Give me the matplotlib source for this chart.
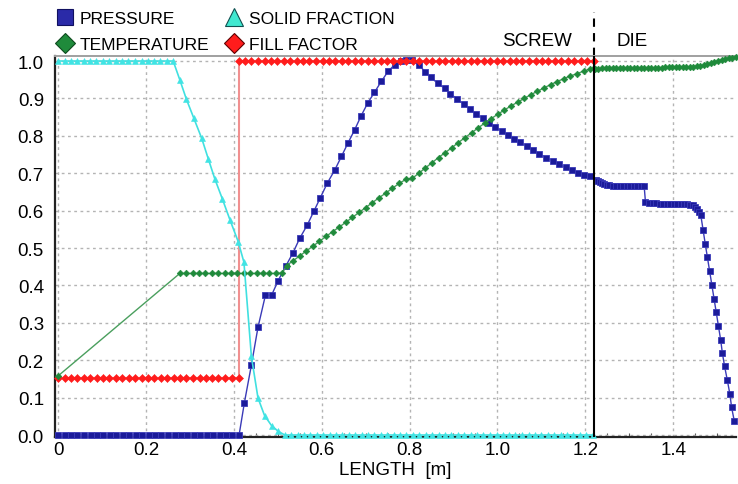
import matplotlib
matplotlib.use('Agg')
import matplotlib.pyplot as plt
from matplotlib.lines import Line2D
import matplotlib.transforms as mtransforms

plt.rcParams['font.family'] = ['Liberation Sans', 'DejaVu Sans']
narrow = ['Liberation Sans Narrow', 'Liberation Sans', 'DejaVu Sans']

# ---- data ----
# pressure (screw + die)
p_x = [0.000, 0.015, 0.029, 0.044, 0.059, 0.074, 0.088, 0.103, 0.118, 0.132,
       0.147, 0.162, 0.177, 0.191, 0.206, 0.221, 0.235, 0.250, 0.265, 0.280,
       0.294, 0.309, 0.324, 0.338, 0.353, 0.368, 0.383, 0.397, 0.412,
       0.424, 0.440, 0.455, 0.472, 0.486, 0.501, 0.518, 0.535, 0.550, 0.567,
       0.582, 0.597, 0.613, 0.630, 0.645, 0.660, 0.675, 0.690, 0.705, 0.720,
       0.736, 0.751, 0.766, 0.781, 0.792, 0.805, 0.821, 0.836, 0.849, 0.864,
       0.880, 0.893, 0.908, 0.923, 0.937, 0.951, 0.967, 0.980, 0.995, 1.010,
       1.023, 1.037, 1.052, 1.067, 1.082, 1.095, 1.111, 1.126, 1.139, 1.155,
       1.170, 1.183, 1.198, 1.211, 1.224,
       1.228, 1.233, 1.238, 1.243, 1.249, 1.255, 1.262, 1.270, 1.278, 1.286,
       1.294, 1.302, 1.310, 1.318, 1.326, 1.334,
       1.337, 1.345, 1.353, 1.361, 1.369, 1.377, 1.385, 1.393, 1.401, 1.409,
       1.417, 1.425, 1.432, 1.438, 1.444, 1.450, 1.455, 1.459, 1.463,
       1.468, 1.473, 1.478, 1.483, 1.488, 1.493, 1.498, 1.503, 1.508, 1.512,
       1.517, 1.523, 1.529, 1.533, 1.539]
p_y = [0.0, 0.0, 0.0, 0.0, 0.0, 0.0, 0.0, 0.0, 0.0, 0.0,
       0.0, 0.0, 0.0, 0.0, 0.0, 0.0, 0.0, 0.0, 0.0, 0.0,
       0.0, 0.0, 0.0, 0.0, 0.0, 0.0, 0.0, 0.0, 0.0,
       0.086, 0.187, 0.288, 0.374, 0.374, 0.413, 0.451, 0.488, 0.526, 0.561,
       0.598, 0.635, 0.674, 0.709, 0.745, 0.781, 0.816, 0.854, 0.888, 0.916,
       0.946, 0.972, 0.990, 1.000, 1.003, 1.003, 0.989, 0.971, 0.956, 0.940,
       0.927, 0.913, 0.898, 0.885, 0.872, 0.858, 0.847, 0.834, 0.823, 0.813,
       0.802, 0.791, 0.783, 0.772, 0.762, 0.751, 0.742, 0.733, 0.725, 0.716,
       0.709, 0.700, 0.695, 0.692, 0.683,
       0.680, 0.676, 0.673, 0.671, 0.669, 0.668, 0.667, 0.667, 0.666, 0.666,
       0.666, 0.665, 0.665, 0.665, 0.665, 0.665,
       0.622, 0.620, 0.620, 0.620, 0.619, 0.619, 0.619, 0.619, 0.619, 0.619,
       0.618, 0.618, 0.617, 0.616, 0.614, 0.610, 0.604, 0.597, 0.587,
       0.549, 0.511, 0.475, 0.438, 0.401, 0.364, 0.328, 0.292, 0.255, 0.219,
       0.184, 0.148, 0.110, 0.074, 0.038]

# temperature
t_x = [0.000, 0.277, 0.291, 0.306, 0.321, 0.335, 0.350, 0.364, 0.379, 0.394,
       0.408, 0.423, 0.437, 0.452, 0.467, 0.481, 0.496, 0.510,
       0.520, 0.535, 0.550, 0.565, 0.580, 0.595, 0.610, 0.625, 0.640, 0.655,
       0.670, 0.685, 0.700, 0.715, 0.730, 0.746, 0.761, 0.777, 0.792, 0.806,
       0.821, 0.836, 0.851, 0.866, 0.881, 0.896, 0.911, 0.926, 0.941, 0.956,
       0.971, 0.986, 1.001, 1.016, 1.031, 1.046, 1.061, 1.076, 1.091, 1.106,
       1.121, 1.136, 1.151, 1.166, 1.181, 1.196, 1.210, 1.219,
       1.222, 1.230, 1.238, 1.246, 1.254, 1.262, 1.270, 1.278, 1.286, 1.294,
       1.302, 1.310, 1.318, 1.326, 1.334, 1.342, 1.350, 1.358, 1.366, 1.374,
       1.382, 1.390, 1.398, 1.406, 1.414, 1.422, 1.430, 1.438, 1.446, 1.454,
       1.462, 1.470, 1.478, 1.486, 1.494, 1.502, 1.510, 1.518, 1.526, 1.534,
       1.542]
t_y = [0.158, 0.432, 0.432, 0.432, 0.432, 0.432, 0.432, 0.432, 0.432, 0.432,
       0.432, 0.432, 0.432, 0.432, 0.432, 0.432, 0.432, 0.433,
       0.453, 0.466, 0.479, 0.492, 0.505, 0.518, 0.531, 0.544, 0.556, 0.569,
       0.582, 0.595, 0.608, 0.621, 0.634, 0.647, 0.660, 0.673, 0.684, 0.686,
       0.700, 0.714, 0.728, 0.742, 0.755, 0.768, 0.782, 0.795, 0.808, 0.821,
       0.834, 0.846, 0.858, 0.869, 0.880, 0.890, 0.900, 0.910, 0.919, 0.928,
       0.937, 0.945, 0.953, 0.960, 0.966, 0.973, 0.978, 0.980,
       0.978, 0.979, 0.980, 0.980, 0.980, 0.981, 0.981, 0.981, 0.981, 0.981,
       0.981, 0.981, 0.981, 0.981, 0.982, 0.982, 0.982, 0.982, 0.982, 0.982,
       0.983, 0.983, 0.983, 0.983, 0.983, 0.984, 0.984, 0.985, 0.985, 0.986,
       0.987, 0.988, 0.991, 0.994, 0.997, 1.000, 1.003, 1.005, 1.007, 1.009,
       1.011]

# solid fraction
s_x = [0.000, 0.015, 0.029, 0.044, 0.058, 0.073, 0.087, 0.102, 0.117, 0.131,
       0.146, 0.160, 0.175, 0.190, 0.204, 0.219, 0.233, 0.248, 0.262,
       0.277, 0.292, 0.309, 0.327, 0.342, 0.357, 0.374, 0.391, 0.410, 0.423,
       0.440, 0.455, 0.470, 0.486, 0.501,
       0.516, 0.530, 0.545, 0.560, 0.574, 0.589, 0.603, 0.618, 0.633, 0.647,
       0.662, 0.676, 0.691, 0.706, 0.720, 0.735, 0.749, 0.764, 0.779, 0.793,
       0.808, 0.822, 0.837, 0.852, 0.866, 0.881, 0.895, 0.910, 0.925, 0.939,
       0.954, 0.968, 0.983, 0.998, 1.012, 1.027, 1.041, 1.056, 1.071, 1.085,
       1.100, 1.114, 1.129, 1.144, 1.158, 1.173, 1.187, 1.202, 1.217]
s_y = [1.0, 1.0, 1.0, 1.0, 1.0, 1.0, 1.0, 1.0, 1.0, 1.0,
       1.0, 1.0, 1.0, 1.0, 1.0, 1.0, 1.0, 1.0, 1.0,
       0.950, 0.898, 0.847, 0.793, 0.738, 0.684, 0.631, 0.576, 0.517, 0.462,
       0.210, 0.099, 0.052, 0.025, 0.010,
       0.0, 0.0, 0.0, 0.0, 0.0, 0.0, 0.0, 0.0, 0.0, 0.0,
       0.0, 0.0, 0.0, 0.0, 0.0, 0.0, 0.0, 0.0, 0.0, 0.0,
       0.0, 0.0, 0.0, 0.0, 0.0, 0.0, 0.0, 0.0, 0.0, 0.0,
       0.0, 0.0, 0.0, 0.0, 0.0, 0.0, 0.0, 0.0, 0.0, 0.0,
       0.0, 0.0, 0.0, 0.0, 0.0, 0.0, 0.0, 0.0, 0.0]

# fill factor
f_x = [0.000, 0.015, 0.029, 0.044, 0.059, 0.073, 0.088, 0.102, 0.117, 0.132,
       0.146, 0.161, 0.175, 0.190, 0.205, 0.219, 0.234, 0.249, 0.263, 0.278,
       0.292, 0.307, 0.322, 0.336, 0.351, 0.365, 0.380, 0.395, 0.411,
       0.411, 0.426, 0.440, 0.455, 0.470, 0.484, 0.499, 0.514, 0.528, 0.543,
       0.558, 0.572, 0.587, 0.602, 0.617, 0.631, 0.646, 0.661, 0.675, 0.690,
       0.705, 0.719, 0.734, 0.749, 0.763, 0.778, 0.793, 0.808, 0.822, 0.837,
       0.852, 0.866, 0.881, 0.896, 0.910, 0.925, 0.940, 0.954, 0.969, 0.984,
       0.999, 1.013, 1.028, 1.043, 1.057, 1.072, 1.087, 1.101, 1.116, 1.131,
       1.145, 1.160, 1.175, 1.190, 1.204, 1.219]
f_y = [0.153, 0.153, 0.153, 0.153, 0.153, 0.153, 0.153, 0.153, 0.153, 0.153,
       0.153, 0.153, 0.153, 0.153, 0.153, 0.153, 0.153, 0.153, 0.153, 0.153,
       0.153, 0.153, 0.153, 0.153, 0.153, 0.153, 0.153, 0.153, 0.153,
       1.0, 1.0, 1.0, 1.0, 1.0, 1.0, 1.0, 1.0, 1.0, 1.0,
       1.0, 1.0, 1.0, 1.0, 1.0, 1.0, 1.0, 1.0, 1.0, 1.0,
       1.0, 1.0, 1.0, 1.0, 1.0, 1.0, 1.0, 1.0, 1.0, 1.0,
       1.0, 1.0, 1.0, 1.0, 1.0, 1.0, 1.0, 1.0, 1.0, 1.0,
       1.0, 1.0, 1.0, 1.0, 1.0, 1.0, 1.0, 1.0, 1.0, 1.0,
       1.0, 1.0, 1.0, 1.0, 1.0, 1.0]

x_ticks = [0, 0.2, 0.4, 0.6, 0.8, 1.0, 1.2, 1.4]
x_tick_labels = ['0', '0.2', '0.4', '0.6', '0.8', '1.0', '1.2', '1.4']
y_ticks = [0.0, 0.1, 0.2, 0.3, 0.4, 0.5, 0.6, 0.7, 0.8, 0.9, 1.0]
screw_end = 1.22

# colours
c_p, c_pl = '#1b1b9a', '#3a3ab8'
c_t, c_tl = '#1f8a3b', '#4a9f5e'
c_s, c_sl = '#40e4e4', '#40e0e0'
c_f, c_fl = '#ff1c1c', '#f09090'

fig = plt.figure(figsize=(7.38, 4.85), dpi=100)
ax = fig.add_axes([55 / 738, 1 - 438 / 485, 681 / 738, 381 / 485])

ax.plot(p_x, p_y, color=c_pl, lw=1, marker='s', ms=5, mfc=c_p, mec=c_pl,
        mew=0.6, zorder=3, clip_on=False)
ax.plot(f_x, f_y, color=c_fl, lw=1.5, marker='D', ms=3.6, mfc=c_f, mec=c_f,
        mew=0.4, zorder=4, clip_on=False)
ax.plot(t_x, t_y, color=c_tl, lw=1, marker='D', ms=3.4, mfc=c_t, mec=c_t,
        mew=0.4, zorder=5, clip_on=False)
ax.plot(s_x, s_y, color=c_sl, lw=1.2, marker='^', ms=4, mfc=c_s, mec=c_s,
        mew=0.4, zorder=6, clip_on=False)

ax.axvline(screw_end, color='black', lw=1.5, zorder=7)

ax.set_xlim(-0.007, 1.543)
ax.set_ylim(-0.0053, 1.0134)
ax.set_xticks(x_ticks)
ax.set_xticklabels(x_tick_labels, family=narrow, fontsize=13.5)
ax.set_xticks([0.05, 0.1, 0.15, 0.25, 0.3, 0.35, 0.45, 0.5, 0.55, 0.65, 0.7,
               0.75, 0.85, 0.9, 0.95, 1.05, 1.1, 1.15, 1.25, 1.3, 1.35, 1.45,
               1.5], minor=True)
ax.set_yticks(y_ticks)
ax.set_yticklabels(['%.1f' % v for v in y_ticks], family=narrow, fontsize=13.5)
ax.tick_params(axis='both', which='major', length=0, pad=8)
ax.tick_params(axis='x', which='major', pad=3)
ax.tick_params(axis='x', which='minor', direction='in', length=3,
               width=0.8, color='#555555')

ax.grid(True, which='major', color='#b4b4b4', lw=1, linestyle=(0, (2, 2.5)))
ax.set_axisbelow(True)

for s in ['left', 'bottom']:
    ax.spines[s].set_color('#222222')
    ax.spines[s].set_linewidth(1.6)
ax.spines['top'].set_color('#a0a0a0')
ax.spines['top'].set_linewidth(1.4)
ax.spines['right'].set_visible(False)

ax.set_xlabel('LENGTH  [m]', fontsize=13.5, family=narrow, labelpad=2)

# screw / die marker above the plot
trans = mtransforms.blended_transform_factory(ax.transData, ax.transAxes)
ax.plot([screw_end, screw_end], [1.0, 1.115], transform=trans, color='black',
        lw=1.5, linestyle=(0, (4, 3)), clip_on=False)
ax.text(screw_end - 0.05, 1.04, 'SCREW', transform=trans, ha='right',
        va='center', fontsize=13.5)
ax.text(screw_end + 0.052, 1.04, 'DIE', transform=trans, ha='left',
        va='center', fontsize=13.5)

handles = [
    Line2D([], [], ls='none', marker='s', ms=11, mfc='#2a2aa8', mec='#101060', mew=0.8),
    Line2D([], [], ls='none', marker='D', ms=10, mfc='#1f8a3b', mec='#0e4a1e', mew=0.8),
    Line2D([], [], ls='none', marker='^', ms=13, mfc='#40e8d0', mec='#105050', mew=0.8),
    Line2D([], [], ls='none', marker='D', ms=10, mfc='#ff1c1c', mec='#600000', mew=0.8),
]
labels = ['PRESSURE', 'TEMPERATURE', 'SOLID FRACTION', 'FILL FACTOR']
fig.legend(handles, labels, loc='upper left', bbox_to_anchor=(0.060, 1.0),
           ncol=2, frameon=False, fontsize=12.5, handlelength=1.0,
           handletextpad=0.35, columnspacing=0.9, labelspacing=0.6,
           borderpad=0.2)

fig.savefig('out.png', dpi=100)
